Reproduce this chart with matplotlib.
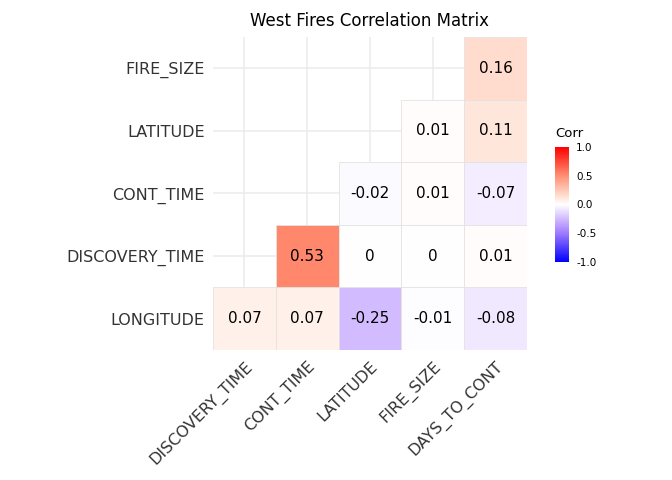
import matplotlib.pyplot as plt
import matplotlib.patches as mpatches
import numpy as np
from matplotlib.colors import LinearSegmentedColormap, Normalize
from matplotlib.cm import ScalarMappable

cols = ['DISCOVERY_TIME', 'CONT_TIME', 'LATITUDE', 'FIRE_SIZE', 'DAYS_TO_CONT']
rows = ['LONGITUDE', 'DISCOVERY_TIME', 'CONT_TIME', 'LATITUDE', 'FIRE_SIZE']
nan = np.nan
corr = np.array([
    [0.07, 0.07, -0.25, -0.01, -0.08],
    [nan, 0.53, 0.0, 0.0, 0.01],
    [nan, nan, -0.02, 0.01, -0.07],
    [nan, nan, nan, 0.01, 0.11],
    [nan, nan, nan, nan, 0.16],
])

# approximate ggplot's Lab-space blue-white-red gradient
nodes = [(0.0, '#0000FF'), (0.25, '#9E7BFF'), (0.375, '#D2BAFF'), (0.5, '#FFFFFF'),
         (0.58, '#FFDCCD'), (0.75, '#FF8F72'), (1.0, '#FF0000')]
cmap = LinearSegmentedColormap.from_list('corr', nodes)
norm = Normalize(-1, 1)

fig = plt.figure(figsize=(6.72, 4.8), dpi=100)
ax = fig.add_axes([0.317, 0.271, 0.467, 0.652])
for i in range(5):
    ax.axhline(i, color='#EBEBEB', lw=1.1, zorder=0)
    ax.axvline(i, color='#EBEBEB', lw=1.1, zorder=0)
for r in range(5):
    for c in range(5):
        v = corr[r, c]
        if np.isnan(v):
            continue
        ax.add_patch(mpatches.Rectangle((c - 0.5, r - 0.5), 1, 1, facecolor=cmap(norm(v)),
                                        edgecolor='#E3E3E3', lw=0.6, zorder=1))
        s = '0' if v == 0 else f'{v:g}'
        ax.text(c, r, s, ha='center', va='center', fontsize=11, zorder=2)
ax.set_xlim(-0.5, 4.5)
ax.set_ylim(-0.5, 4.5)
ax.set_xticks(range(5))
ax.set_xticklabels(cols, rotation=45, ha='right', rotation_mode='anchor', fontsize=11.5, color='#333333')
ax.set_yticks(range(5))
ax.set_yticklabels(rows, fontsize=11.5, color='#333333')
ax.tick_params(length=0, pad=6)
for s in ax.spines.values():
    s.set_visible(False)
ax.set_title('West Fires Correlation Matrix', fontsize=12, pad=8)

cax = fig.add_axes([0.826, 0.454, 0.02, 0.24])
cb = fig.colorbar(ScalarMappable(norm=norm, cmap=cmap), cax=cax, ticks=[-1, -0.5, 0, 0.5, 1])
cb.ax.set_yticklabels(['-1.0', '-0.5', '0.0', '0.5', '1.0'], fontsize=7.5)
cb.outline.set_visible(False)
cb.ax.tick_params(length=2, color='white')
fig.text(0.826, 0.715, 'Corr', fontsize=9.5)

plt.savefig('out.png', dpi=100)
